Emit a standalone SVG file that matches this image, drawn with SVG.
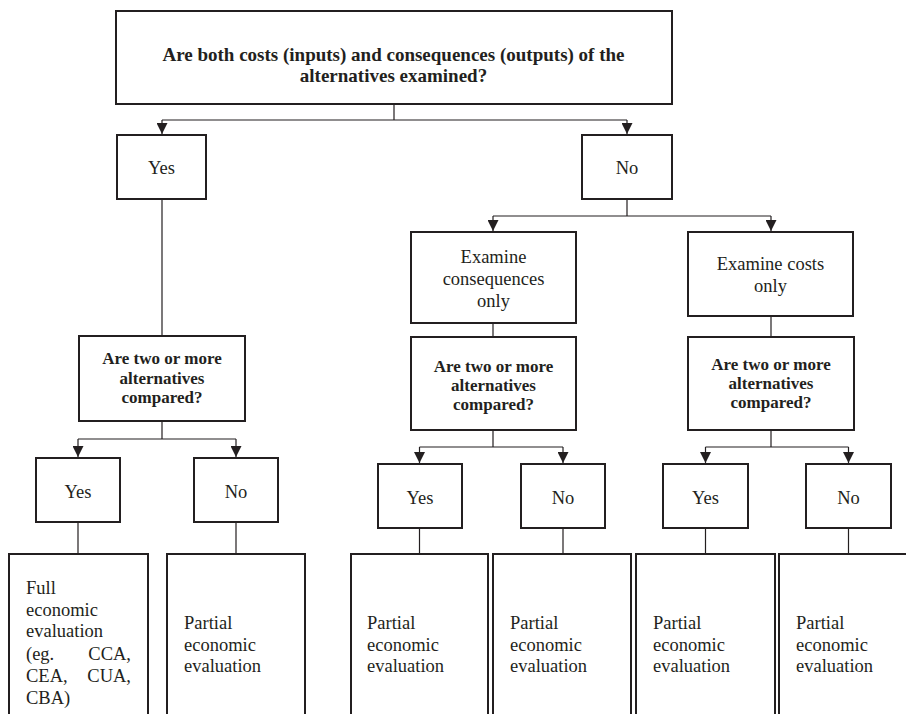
<svg xmlns="http://www.w3.org/2000/svg" width="906" height="714" viewBox="0 0 906 714">
<style>
.box{fill:#fff;stroke:#231f20;stroke-width:2}
text{font-family:'Liberation Serif','DejaVu Serif',serif;fill:#231f20}
.t{font-size:18.5px}
.b{font-size:17px;font-weight:bold;text-anchor:middle}
.bt{font-size:19px;font-weight:bold;text-anchor:middle}
.c{text-anchor:middle}
.ln{fill:none;stroke:#231f20;stroke-width:1.2}
</style>
<defs>
<marker id="ah" markerUnits="userSpaceOnUse" markerWidth="11" markerHeight="11" refX="11" refY="5.5" orient="auto">
<path d="M0,0 L11,5.5 L0,11 z" fill="#231f20"/>
</marker>
</defs>
<rect width="906" height="714" fill="#fff"/>
<g id="connectors">
<path class="ln" d="M394,104 V120 M162,120 H627"/>
<path class="ln" d="M162,120 V134" marker-end="url(#ah)"/>
<path class="ln" d="M627,120 V134" marker-end="url(#ah)"/>
<path class="ln" d="M162,199 V336"/>
<path class="ln" d="M627,199 V216 M493,216 H771"/>
<path class="ln" d="M493,216 V231" marker-end="url(#ah)"/>
<path class="ln" d="M771,216 V231" marker-end="url(#ah)"/>
<path class="ln" d="M493,323 V337"/>
<path class="ln" d="M771,316 V337"/>
<path class="ln" d="M162,421 V439 M78,439 H236"/>
<path class="ln" d="M78,439 V457" marker-end="url(#ah)"/>
<path class="ln" d="M236,439 V457" marker-end="url(#ah)"/>
<path class="ln" d="M493,430 V447 M419.5,447 H563"/>
<path class="ln" d="M419.5,447 V463" marker-end="url(#ah)"/>
<path class="ln" d="M563,447 V463" marker-end="url(#ah)"/>
<path class="ln" d="M771,430 V447 M705.5,447 H848.5"/>
<path class="ln" d="M705.5,447 V463" marker-end="url(#ah)"/>
<path class="ln" d="M848.5,447 V463" marker-end="url(#ah)"/>
<path class="ln" d="M78,522 V554 M236,522 V554 M419.5,528 V554 M563,528 V554 M705.5,528 V554 M848.5,528 V554"/>
</g>
<g id="q-top">
<rect class="box" x="116" y="11" width="556" height="93"/>
<text class="bt" x="393.5" y="61">Are both costs (inputs) and consequences (outputs) of the</text>
<text class="bt" x="393.5" y="82">alternatives examined?</text>
</g>
<g id="yes-1">
<rect class="box" x="117" y="135" width="89" height="64"/>
<text class="t c" x="161.5" y="174">Yes</text>
</g>
<g id="no-1">
<rect class="box" x="582" y="135" width="90" height="64"/>
<text class="t c" x="627" y="174">No</text>
</g>
<g id="examine-consequences">
<rect class="box" x="411" y="232" width="165" height="91"/>
<text class="t c" x="493.5" y="263">Examine</text>
<text class="t c" x="493.5" y="285">consequences</text>
<text class="t c" x="493.5" y="307">only</text>
</g>
<g id="examine-costs">
<rect class="box" x="688" y="232" width="165" height="84"/>
<text class="t c" x="770.5" y="270">Examine costs</text>
<text class="t c" x="770.5" y="292">only</text>
</g>
<g id="q-left">
<rect class="box" x="79" y="336" width="166" height="85"/>
<text class="b" x="162" y="364">Are two or more</text>
<text class="b" x="162" y="384">alternatives</text>
<text class="b" x="162" y="403">compared?</text>
</g>
<g id="q-mid">
<rect class="box" x="411" y="337" width="165" height="93"/>
<text class="b" x="493.5" y="372">Are two or more</text>
<text class="b" x="493.5" y="391">alternatives</text>
<text class="b" x="493.5" y="410">compared?</text>
</g>
<g id="q-right">
<rect class="box" x="688" y="337" width="166" height="93"/>
<text class="b" x="771" y="370">Are two or more</text>
<text class="b" x="771" y="389">alternatives</text>
<text class="b" x="771" y="408">compared?</text>
</g>
<g id="yes-left">
<rect class="box" x="36" y="458" width="84" height="64"/>
<text class="t c" x="78" y="498">Yes</text>
</g>
<g id="no-left">
<rect class="box" x="194" y="458" width="84" height="64"/>
<text class="t c" x="236" y="498">No</text>
</g>
<g id="yes-mid">
<rect class="box" x="378" y="464" width="84" height="64"/>
<text class="t c" x="420" y="504">Yes</text>
</g>
<g id="no-mid">
<rect class="box" x="521" y="464" width="84" height="64"/>
<text class="t c" x="563" y="504">No</text>
</g>
<g id="yes-right">
<rect class="box" x="663" y="464" width="85" height="64"/>
<text class="t c" x="705.5" y="504">Yes</text>
</g>
<g id="no-right">
<rect class="box" x="806" y="464" width="85" height="64"/>
<text class="t c" x="848.5" y="504">No</text>
</g>
<g id="full-eval">
<rect class="box" x="9" y="554" width="139" height="180"/>
<text class="t" x="26" y="594">Full</text>
<text class="t" x="26" y="615.5">economic</text>
<text class="t" x="26" y="637">evaluation</text>
<text class="t" y="659.5"><tspan x="26">(eg.</tspan><tspan x="131" text-anchor="end">CCA,</tspan></text>
<text class="t" y="682"><tspan x="26">CEA,</tspan><tspan x="131" text-anchor="end">CUA,</tspan></text>
<text class="t" x="26" y="704">CBA)</text>
</g>
<g id="partial-1">
<rect class="box" x="167" y="554" width="138" height="180"/>
<text class="t" x="184" y="629">Partial</text>
<text class="t" x="184" y="650.5">economic</text>
<text class="t" x="184" y="672">evaluation</text>
</g>
<g id="partial-2">
<rect class="box" x="351" y="554" width="137" height="180"/>
<text class="t" x="367" y="629">Partial</text>
<text class="t" x="367" y="650.5">economic</text>
<text class="t" x="367" y="672">evaluation</text>
</g>
<g id="partial-3">
<rect class="box" x="493" y="554" width="138" height="180"/>
<text class="t" x="510" y="629">Partial</text>
<text class="t" x="510" y="650.5">economic</text>
<text class="t" x="510" y="672">evaluation</text>
</g>
<g id="partial-4">
<rect class="box" x="636" y="554" width="139" height="180"/>
<text class="t" x="653" y="629">Partial</text>
<text class="t" x="653" y="650.5">economic</text>
<text class="t" x="653" y="672">evaluation</text>
</g>
<g id="partial-5">
<rect class="box" x="779" y="554" width="139" height="180"/>
<text class="t" x="796" y="629">Partial</text>
<text class="t" x="796" y="650.5">economic</text>
<text class="t" x="796" y="672">evaluation</text>
</g>
</svg>
